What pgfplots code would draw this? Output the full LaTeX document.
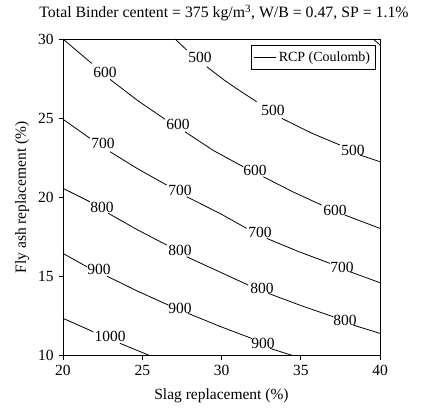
\documentclass[border=0pt]{standalone}
\usepackage{pgfplots}
\pgfplotsset{compat=1.18}
\usepackage{fontspec}
\setmainfont{Liberation Serif}
\begin{document}
\fontsize{15.5}{18}\selectfont
\begin{tikzpicture}
\path[use as bounding box] (-63pt,-51.3pt) rectangle (359pt,355.7pt);
\begin{axis}[
  at={(0,0)}, anchor=south west, scale only axis,
  width=317pt, height=316.7pt,
  xmin=20, xmax=40, ymin=10, ymax=30,
  xtick={20,25,...,40}, ytick={10,15,...,30},
  tick pos=left, tick align=outside, major tick length=4pt,
  axis line style={line width=0.9pt}, tick style={line width=0.8pt, black},
  /pgf/number format/assume math mode=true,
  ticklabel style={font=\fontsize{15.5}{18}\selectfont},
  unbounded coords=jump,
  title={Total Binder centent = 375 kg/m\textsuperscript{3}, W/B = 0.47, SP = 1.1\%},
  title style={at={(axis description cs:0.5,1)}, anchor=south, yshift=12pt, xshift=2.5pt, inner sep=0pt, font=\fontsize{15.8}{18}\selectfont},
  xlabel={Slag replacement (\%)},
  ylabel={Fly ash replacement (\%)},
  xlabel style={at={(axis description cs:0.5,-0.126)}, anchor=center},
  ylabel style={at={(axis description cs:-0.129,0.5)}, anchor=center},
  legend style={at={(axis description cs:0.986,0.981)}, anchor=north east, draw=black, line width=0.8pt,
    font=\fontsize{14}{16}\selectfont, inner xsep=3pt, inner ysep=4pt},
  legend cell align=left,
  legend image code/.code={\draw[black, line width=0.8pt] (0pt,0pt) -- (22pt,0pt);},
]
% 400 (corner)
\addplot[black, line width=0.8pt, forget plot] coordinates {(39.58,30) (40,29.62)};
% 500
\addplot[black, line width=0.8pt] coordinates {
 (27.07,30) (27.80,29.31) (nan,nan)
 (29.07,28.25) (30.2,27.38) (31.17,26.72) (32.22,26.04) (nan,nan)
 (33.80,24.99) (35.7,24.05) (37.48,23.30) (nan,nan)
 (38.74,22.67) (40,22.25)};
\addlegendentry{RCP (Coulomb)}
% 600
\addplot[black, line width=0.8pt, forget plot] coordinates {
 (20,30) (21.81,28.46) (nan,nan)
 (22.97,27.45) (24.7,26.12) (26.44,24.93) (nan,nan)
 (27.70,24.14) (29.5,22.95) (31.38,21.93) (nan,nan)
 (32.64,21.30) (34.5,20.35) (36.32,19.51) (nan,nan)
 (37.79,18.88) (40,18.04)};
% 700
\addplot[black, line width=0.8pt, forget plot] coordinates {
 (20,24.93) (21.70,23.73) (nan,nan)
 (22.97,22.88) (24.75,21.78) (26.54,20.78) (nan,nan)
 (27.80,20.04) (29.91,18.98) (31.59,18.04) (nan,nan)
 (32.85,17.41) (34.85,16.58) (36.85,15.83) (nan,nan)
 (38.11,15.30) (40,14.61)};
% 800
\addplot[black, line width=0.8pt, forget plot] coordinates {
 (20,20.57) (21.70,19.72) (nan,nan)
 (22.86,18.99) (24.7,17.95) (26.54,16.99) (nan,nan)
 (27.80,16.25) (29.91,15.28) (31.69,14.46) (nan,nan)
 (32.95,13.94) (35.0,13.17) (37.05,12.46) (nan,nan)
 (38.32,11.93) (40,11.41)};
% 900
\addplot[black, line width=0.8pt, forget plot] coordinates {
 (20,16.46) (21.50,15.62) (nan,nan)
 (22.76,15.03) (24.7,14.08) (26.64,13.20) (nan,nan)
 (27.90,12.67) (29.91,11.85) (31.91,11.09) (nan,nan)
 (33.06,10.46) (34.53,10)};
% 1000
\addplot[black, line width=0.8pt, forget plot] coordinates {
 (20,12.36) (21.91,11.51) (nan,nan)
 (23.60,10.78) (25.49,10)};
% contour labels
\begin{scope}[every node/.style={inner sep=0pt, font=\fontsize{15.5}{18}\selectfont}]
\node at (axis cs:28.64,28.86) {500};
\node at (axis cs:33.25,25.51) {500};
\node at (axis cs:38.30,22.99) {500};
\node at (axis cs:22.65,27.92) {600};
\node at (axis cs:27.26,24.63) {600};
\node at (axis cs:32.11,21.72) {600};
\node at (axis cs:37.16,19.20) {600};
\node at (axis cs:22.52,23.43) {700};
\node at (axis cs:27.38,20.46) {700};
\node at (axis cs:32.43,17.81) {700};
\node at (axis cs:37.60,15.60) {700};
\node at (axis cs:22.46,19.39) {800};
\node at (axis cs:27.38,16.67) {800};
\node at (axis cs:32.56,14.27) {800};
\node at (axis cs:37.79,12.25) {800};
\node at (axis cs:22.27,15.47) {900};
\node at (axis cs:27.38,13.01) {900};
\node at (axis cs:32.62,10.80) {900};
\node at (axis cs:22.97,11.24) {1000};
\end{scope}
\end{axis}
\end{tikzpicture}
\end{document}
